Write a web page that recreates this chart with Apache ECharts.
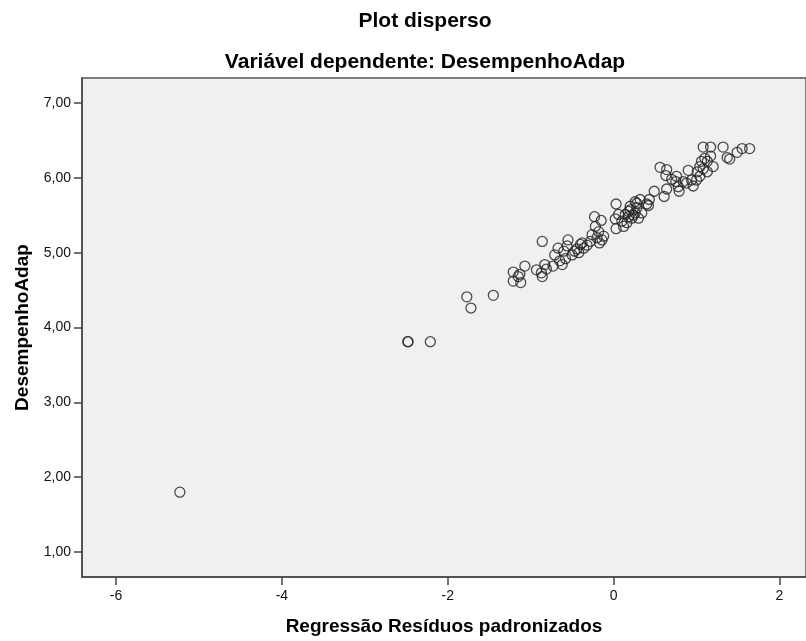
<!DOCTYPE html>
<html>
<head>
<meta charset="utf-8">
<script src="https://cdn.jsdelivr.net/npm/echarts@6/dist/echarts.min.js"></script>
<style>
  html, body { margin: 0; padding: 0; background: #fff; }
  #chart { width: 806px; height: 641px; }
</style>
</head>
<body>
<div id="chart"></div>
<script>
  // residuos padronizados (x) e DesempenhoAdap (y)
  var residuos = [
    -5.23, -2.48, -2.48, -2.21, -1.77, -1.72, -1.45,
    -1.21, -1.21, -1.15, -1.12, -1.13, -1.07, -0.86, -0.93, -0.87, -0.86,
    -0.83, -0.81, -0.73, -0.71, -0.67, -0.65, -0.62, -0.60, -0.55, -0.56,
    -0.50, -0.47, -0.42, -0.40, -0.36, -0.38, -0.28, -0.26, -0.23, -0.22,
    -0.20, -0.18, -0.15, -0.14, -0.12, -0.17, 0.03, 0.02, 0.03, 0.06,
    0.12, 0.14, 0.18, 0.22, 0.20, 0.26, 0.30, 0.28, 0.34,
    1.08, 1.17, 1.32, 1.64, 1.55, 1.49, 1.37, 1.40, 1.17, 1.20, 1.13,
    1.06, 1.10, 1.04, 1.13, 1.01, 0.90, 0.94, 1.00, 1.04, 0.96, 0.88,
    0.84, 0.76, 0.75, 0.78, 0.79, 0.56, 0.64, 0.63, 0.64, 0.61, 0.49,
    0.43, 0.42, 0.32, 0.26, 0.28, 0.20, 0.18,
    0.10, 0.40, 0.70, 1.08, -0.32, -0.44, -0.58, 0.16, 0.24
  ]
  var desempenho = [
    1.80, 3.81, 3.81, 3.81, 4.41, 4.26, 4.43,
    4.74, 4.62, 4.68, 4.60, 4.71, 4.82, 5.15, 4.77, 4.73, 4.68,
    4.84, 4.78, 4.82, 4.97, 5.06, 4.89, 4.84, 5.02, 5.17, 5.09,
    4.97, 5.02, 5.00, 5.11, 5.06, 5.13, 5.15, 5.24, 5.48, 5.35,
    5.20, 5.28, 5.43, 5.17, 5.22, 5.13, 5.65, 5.45, 5.32, 5.51,
    5.35, 5.51, 5.55, 5.46, 5.62, 5.53, 5.46, 5.66, 5.53,
    6.41, 6.41, 6.41, 6.39, 6.39, 6.34, 6.27, 6.25, 6.29, 6.15, 6.22,
    6.22, 6.26, 6.15, 6.08, 6.08, 6.10, 5.97, 5.97, 6.02, 5.89, 5.93,
    5.95, 6.02, 5.95, 5.88, 5.82, 6.14, 6.11, 6.03, 5.85, 5.75, 5.82,
    5.71, 5.63, 5.71, 5.68, 5.60, 5.57, 5.48,
    5.42, 5.65, 5.98, 6.12, 5.10, 5.05, 4.92, 5.40, 5.50
  ]
  var xTicks = [-6, -4, -2, 0, 2]
  var yTicks = [1, 2, 3, 4, 5, 6, 7]

  var pontos = []
  for (var i = 0; i < residuos.length; i++) {
    pontos.push([residuos[i], desempenho[i]])
  }

  var chart = echarts.init(document.getElementById('chart'))
  var fonte = 'Arial, "Liberation Sans", sans-serif'

  var options = {
    animation: false,
    title: [{
      text: 'Plot disperso',
      left: 420,
      textAlign: 'center',
      top: 6,
      textStyle: { fontFamily: fonte, fontSize: 21, fontWeight: 'bold', color: '#000' }
    }, {
      text: 'Variável dependente: DesempenhoAdap',
      left: 420,
      textAlign: 'center',
      top: 47,
      textStyle: { fontFamily: fonte, fontSize: 21, fontWeight: 'bold', color: '#000' }
    }],
    grid: {
      left: 82,
      top: 78,
      right: 0,
      bottom: 62,
      show: true,
      backgroundColor: '#f0f0f0',
      borderColor: '#555',
      borderWidth: 1.5
    },
    xAxis: {
      type: 'value',
      min: -6.41,
      max: 2.32,
      name: 'Regressão Resíduos padronizados',
      nameLocation: 'middle',
      nameGap: 40,
      nameTextStyle: { fontFamily: fonte, fontSize: 19, fontWeight: 'bold', color: '#000' },
      axisLine: { show: true, onZero: false, lineStyle: { color: '#444', width: 1.5 } },
      axisTick: { show: true, length: 8, customValues: xTicks, lineStyle: { color: '#444', width: 1.5 } },
      axisLabel: {
        customValues: xTicks,
        margin: 12,
        fontFamily: fonte,
        fontSize: 14,
        color: '#111'
      },
      splitLine: { show: false }
    },
    yAxis: {
      type: 'value',
      min: 0.667,
      max: 7.333,
      name: 'DesempenhoAdap',
      nameLocation: 'middle',
      nameGap: 50,
      nameTextStyle: { fontFamily: fonte, fontSize: 19, fontWeight: 'bold', color: '#000' },
      axisLine: { show: true, onZero: false, lineStyle: { color: '#444', width: 1.5 } },
      axisTick: { show: true, length: 8, customValues: yTicks, lineStyle: { color: '#444', width: 1.5 } },
      axisLabel: {
        customValues: yTicks,
        margin: 11,
        fontFamily: fonte,
        fontSize: 14,
        color: '#111',
        formatter: function (v) {
          return v.toFixed(2).replace('.', ',')
        }
      },
      splitLine: { show: false }
    },
    series: [{
      type: 'scatter',
      data: pontos,
      symbol: 'circle',
      symbolSize: 10,
      itemStyle: {
        color: 'rgba(0,0,0,0)',
        borderColor: '#222',
        borderWidth: 1.3
      }
    }]
  }

  chart.setOption(options)
</script>
</body>
</html>
